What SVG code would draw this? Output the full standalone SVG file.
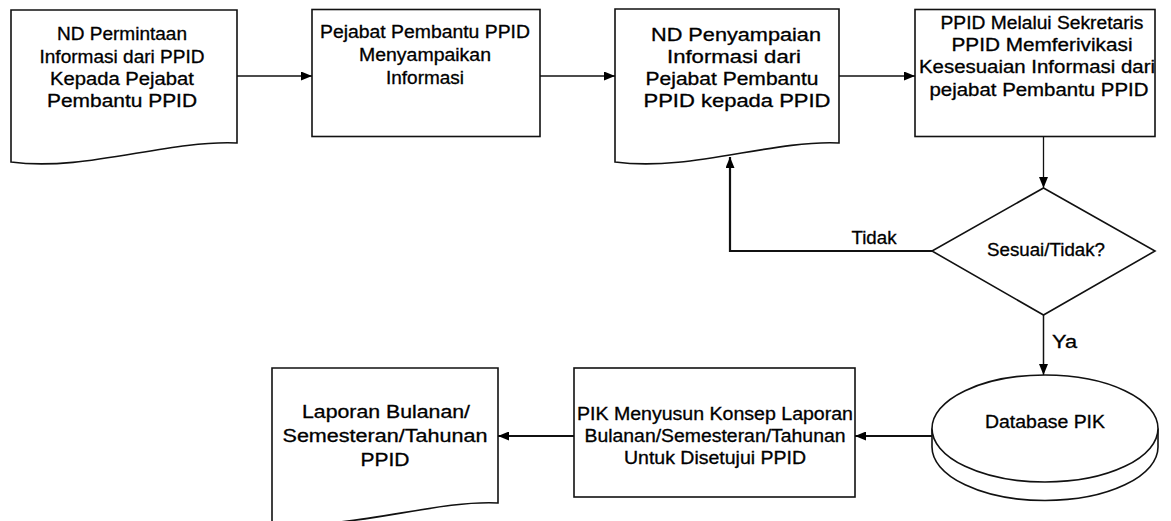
<svg xmlns="http://www.w3.org/2000/svg" width="1171" height="521" viewBox="0 0 1171 521">
<style>
.shape{fill:#fff;stroke:#111;stroke-width:1.6}
.t{font-family:"Liberation Sans",Arial,sans-serif;font-size:17.5px;fill:#000;stroke:#000;stroke-width:0.3;text-anchor:middle}
.c{fill:none;stroke:#111}
</style>
<defs>
<marker id="ah" markerUnits="userSpaceOnUse" markerWidth="11" markerHeight="9" refX="11" refY="4.5" orient="auto">
<path d="M0,0 L11,4.5 L0,9 Z" fill="#000"/>
</marker>
</defs>
<rect width="1171" height="521" fill="#fff"/>
<g id="connectors">
<line class="c" x1="237" y1="76" x2="312" y2="76" stroke-width="1.3" marker-end="url(#ah)"/>
<line class="c" x1="540" y1="76" x2="615" y2="76" stroke-width="1.3" marker-end="url(#ah)"/>
<line class="c" x1="839" y1="76" x2="915" y2="76" stroke-width="1.3" marker-end="url(#ah)"/>
<line class="c" x1="1043.5" y1="137" x2="1043.5" y2="188" stroke-width="1.3" marker-end="url(#ah)"/>
<polyline class="c" points="932,251 730,251 730,157" stroke-width="2.2" marker-end="url(#ah)"/>
<line class="c" x1="1043.5" y1="315" x2="1043.5" y2="375" stroke-width="1.5" marker-end="url(#ah)"/>
<line class="c" x1="932" y1="436" x2="855" y2="436" stroke-width="2" marker-end="url(#ah)"/>
<line class="c" x1="574" y1="436" x2="498" y2="436" stroke-width="2" marker-end="url(#ah)"/>
<text class="t" x="874" y="244" textLength="45" lengthAdjust="spacingAndGlyphs">Tidak</text>
<text class="t" x="1052" y="348" style="text-anchor:start" textLength="25" lengthAdjust="spacingAndGlyphs">Ya</text>
</g>
<g id="node1">
<path class="shape" d="M11,10 H237 V143 C165,140 85,172 11,162 Z"/>
<text class="t" x="122" y="40" textLength="130" lengthAdjust="spacingAndGlyphs">ND Permintaan</text>
<text class="t" x="122" y="62.5" textLength="165" lengthAdjust="spacingAndGlyphs">Informasi dari PPID</text>
<text class="t" x="122" y="85" textLength="144" lengthAdjust="spacingAndGlyphs">Kepada Pejabat</text>
<text class="t" x="122" y="107" textLength="150" lengthAdjust="spacingAndGlyphs">Pembantu PPID</text>
</g>
<g id="node2">
<rect class="shape" x="312" y="9.5" width="228" height="127"/>
<text class="t" x="425" y="37.5" textLength="210" lengthAdjust="spacingAndGlyphs">Pejabat Pembantu PPID</text>
<text class="t" x="425" y="60.5" textLength="132" lengthAdjust="spacingAndGlyphs">Menyampaikan</text>
<text class="t" x="425" y="83.5" textLength="78" lengthAdjust="spacingAndGlyphs">Informasi</text>
</g>
<g id="node3">
<path class="shape" d="M615,9 H839 V143 C770,140 690,172 615,162 Z"/>
<text class="t" x="736" y="40.5" textLength="170" lengthAdjust="spacingAndGlyphs">ND Penyampaian</text>
<text class="t" x="734" y="63" textLength="134" lengthAdjust="spacingAndGlyphs">Informasi dari</text>
<text class="t" x="732" y="85" textLength="173" lengthAdjust="spacingAndGlyphs">Pejabat Pembantu</text>
<text class="t" x="737" y="107" textLength="187" lengthAdjust="spacingAndGlyphs">PPID kepada PPID</text>
</g>
<g id="node4">
<rect class="shape" x="915" y="9.5" width="240" height="127"/>
<text class="t" x="1042" y="28.5" textLength="203" lengthAdjust="spacingAndGlyphs">PPID Melalui Sekretaris</text>
<text class="t" x="1042" y="50.5" textLength="181" lengthAdjust="spacingAndGlyphs">PPID Memferivikasi</text>
<text class="t" x="1037" y="73" textLength="236" lengthAdjust="spacingAndGlyphs">Kesesuaian Informasi dari</text>
<text class="t" x="1039" y="95.5" textLength="219" lengthAdjust="spacingAndGlyphs">pejabat Pembantu PPID</text>
</g>
<g id="decision">
<polygon class="shape" points="1043.5,188 1155,251 1043.5,315 932,251"/>
<text class="t" x="1046" y="256" textLength="118" lengthAdjust="spacingAndGlyphs">Sesuai/Tidak?</text>
</g>
<g id="database">
<path class="shape" d="M932,428.5 V447 A113,53.5 0 0 0 1158,447 V428.5"/>
<ellipse class="shape" cx="1045" cy="428.5" rx="113" ry="53.5"/>
<text class="t" x="1045" y="428" textLength="120" lengthAdjust="spacingAndGlyphs">Database PIK</text>
</g>
<g id="node5">
<rect class="shape" x="574" y="368" width="281" height="129"/>
<text class="t" x="715" y="419.5" textLength="276" lengthAdjust="spacingAndGlyphs">PIK Menyusun Konsep Laporan</text>
<text class="t" x="715" y="442" textLength="261" lengthAdjust="spacingAndGlyphs">Bulanan/Semesteran/Tahunan</text>
<text class="t" x="715" y="464" textLength="182" lengthAdjust="spacingAndGlyphs">Untuk Disetujui PPID</text>
</g>
<g id="node6">
<path class="shape" d="M272,368 H498 V503 C430,500 350,532 272,522 Z"/>
<text class="t" x="386" y="417.5" textLength="168" lengthAdjust="spacingAndGlyphs">Laporan Bulanan/</text>
<text class="t" x="385" y="442" textLength="205" lengthAdjust="spacingAndGlyphs">Semesteran/Tahunan</text>
<text class="t" x="385" y="466" textLength="49" lengthAdjust="spacingAndGlyphs">PPID</text>
</g>
</svg>
